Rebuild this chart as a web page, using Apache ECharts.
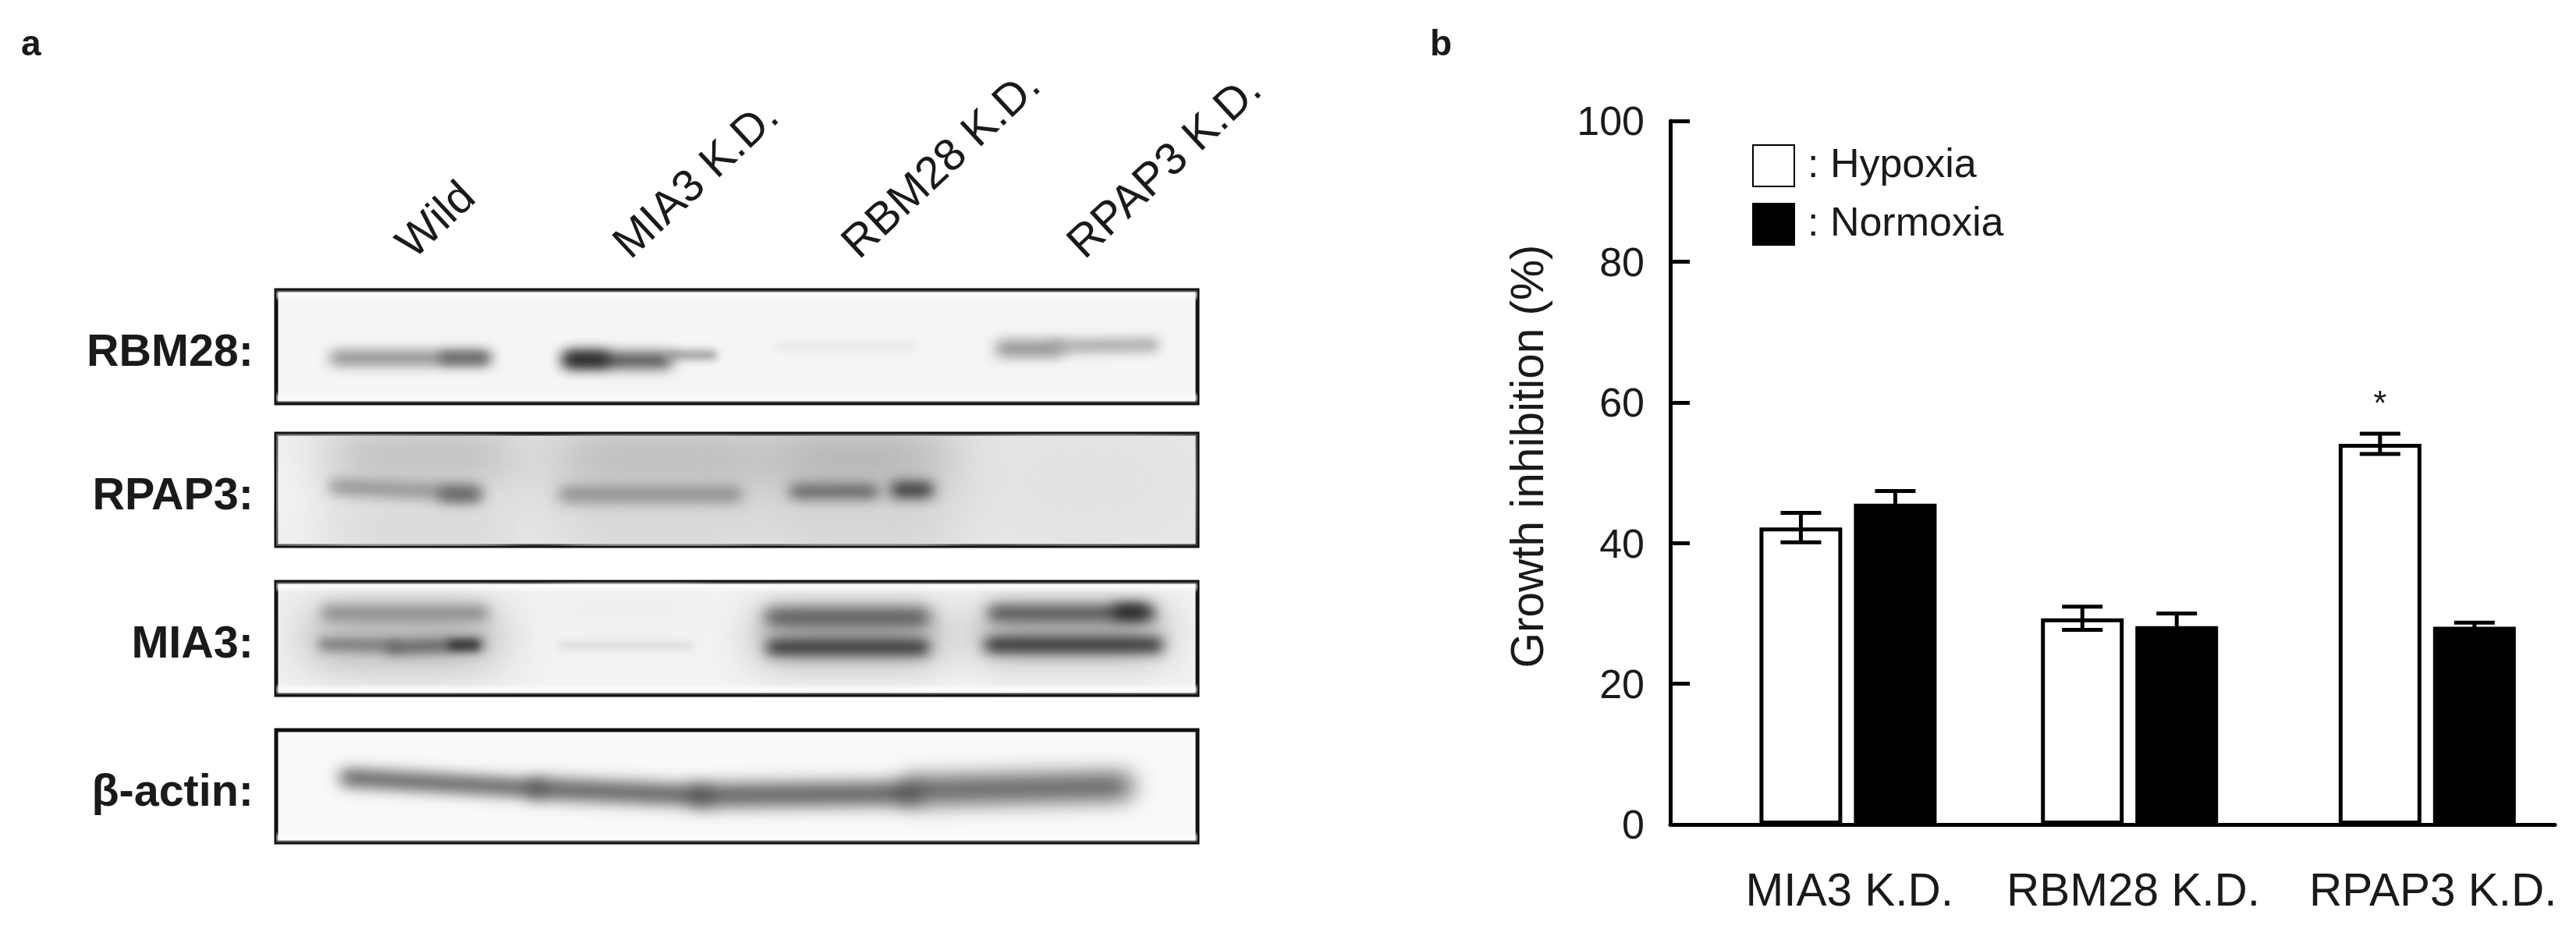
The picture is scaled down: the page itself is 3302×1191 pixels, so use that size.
<!DOCTYPE html>
<html>
<head>
<meta charset="utf-8">
<script src="https://cdn.jsdelivr.net/npm/echarts@6/dist/echarts.min.js"></script>
<style>html,body{margin:0;padding:0;background:#fff}#c{width:3302px;height:1191px;filter:blur(0.6px)}</style>
</head>
<body>
<div id="c"></div>
<script>
// ---- Panel b data ----
const groups = ['MIA3 K.D.', 'RBM28 K.D.', 'RPAP3 K.D.'];
const hypoxia = [42.2, 29.3, 54.1];
const normoxia = [45.6, 28.2, 28.1];
const hypoxiaErr = [2.1, 1.65, 1.45];
const normoxiaErr = [1.8, 1.8, 0.6];
const significance = ['', '', '*'];

// ---- Panel a data ----
const lanes = ['Wild', 'MIA3 K.D.', 'RBM28 K.D.', 'RPAP3 K.D.'];
const blotNames = ['RBM28:', 'RPAP3:', 'MIA3:', 'β-actin:'];
// band strokes: [x0, y0, x1, y1, thickness, grey level]
const bandsRBM28 = [
  [76,87,270,87,15,115],[215,87,265,87,13,95],
  [376,90,500,90,16,35],[375,88,420,88,15,20],[505,83,560,83,10,140],
  [646,72,815,72,10,230],
  [930,75,1000,75,16,115],[1000,72,1125,70,14,155],
  [0,6,1181,6,6,255],[0,138,1181,138,6,255]
];
const bandsRPAP3 = [
  [0,70,30,70,150,255],
  [90,30,280,30,60,178],[385,35,600,35,70,172],[660,35,840,35,70,160],[940,60,1140,60,120,222],
  [90,125,280,125,60,212],[385,125,600,125,60,212],[660,125,840,125,60,208],
  [75,68,255,76,15,130],[215,78,255,78,15,85],
  [370,78,590,78,16,125],
  [665,74,765,74,15,75],[795,72,835,72,16,15]
];
const bandsMIA3 = [
  [65,70,260,70,58,160],[65,40,265,40,15,120],[60,80,150,82,13,110],[150,84,260,80,14,80],[225,81,255,81,10,40],
  [370,35,530,35,35,238],[365,82,530,82,9,218],
  [640,70,830,70,50,140],[635,45,830,45,18,60],[635,84,830,84,15,15],
  [920,65,1115,65,50,145],[920,40,1120,40,16,55],[1080,38,1110,38,15,20],[915,81,1130,81,15,10],
  [0,6,1181,6,6,255],[0,138,1181,138,6,255]
];
const bandsActin = [
  [90,61,335,75,18,60],[335,75,545,84,20,50],[545,84,815,81,22,45],[815,78,1085,72,27,48],
  [0,138,1181,138,6,255]
];

// ---- layout ----
const FONT = '"Liberation Sans", Arial, sans-serif';
const INK = '#1a1a1a';
const groupPos = [0, 0.972, 2];
const labelPos = [0.005, 0.985, 2.02];
const lanePos = [165, 443, 736, 1025];
const barOffset = 0.163;
const blots = [
  {bands: bandsRBM28, top: 372, h: 145, bg: '#f5f5f5'},
  {bands: bandsRPAP3, top: 556, h: 144, bg: '#e9e9e9'},
  {bands: bandsMIA3,  top: 746, h: 145, bg: '#f2f2f2'},
  {bands: bandsActin, top: 936, h: 144, bg: '#f9f9f9'}
];
const blotW = 1181;
const OFF = 5000;

function renderBand(params, api) {
  const a = api.coord([api.value(0), api.value(1)]);
  const b = api.coord([api.value(2), api.value(3)]);
  const t = api.value(4), g = api.value(5);
  return {
    type: 'line',
    shape: {x1: a[0] - OFF, y1: a[1], x2: b[0] - OFF, y2: b[1]},
    style: {
      stroke: '#000', lineWidth: t * 1.0, lineCap: 'round',
      shadowColor: 'rgb(' + g + ',' + g + ',' + g + ')',
      shadowBlur: t * 1.1, shadowOffsetX: OFF
    },
    silent: true
  };
}

function renderErr(params, api) {
  const x = api.value(0), lo = api.value(1), hi = api.value(2);
  const pLo = api.coord([x, lo]), pHi = api.coord([x, hi]);
  const cap = 26;
  const st = {stroke: '#000', lineWidth: 5, fill: null};
  const children = [
    {type: 'line', shape: {x1: pLo[0], y1: pLo[1], x2: pHi[0], y2: pHi[1]}, style: st},
    {type: 'line', shape: {x1: pLo[0] - cap, y1: pLo[1], x2: pLo[0] + cap, y2: pLo[1]}, style: st},
    {type: 'line', shape: {x1: pHi[0] - cap, y1: pHi[1], x2: pHi[0] + cap, y2: pHi[1]}, style: st}
  ];
  const mark = significance[params.dataIndex];
  if (params.seriesName === 'Hypoxia error' && mark) {
    children.push({type: 'text', style: {
      text: mark, x: pHi[0], y: pHi[1] - 36, align: 'center', verticalAlign: 'middle',
      font: '44px ' + FONT, fill: INK
    }});
  }
  return {type: 'group', children};
}

const grid = [], xAxis = [], yAxis = [], series = [];

blots.forEach((b, i) => {
  grid.push({left: 354, top: b.top, width: blotW, height: b.h, show: true,
    backgroundColor: b.bg, borderColor: '#111', borderWidth: 5});
  xAxis.push({type: 'value', gridIndex: i, min: 0, max: blotW, show: false});
  yAxis.push({type: 'value', gridIndex: i, min: 0, max: b.h, inverse: true, show: false});
  yAxis.push({type: 'category', gridIndex: i, data: [blotNames[i]], position: 'left',
    axisLine: {show: false}, axisTick: {show: false},
    axisLabel: {margin: 29, fontFamily: FONT, fontWeight: 'bold', fontSize: 57.5, color: INK,
      formatter: v => '{s| }\n{t|' + v + '}',
      rich: {s: {fontSize: 1, lineHeight: 18}, t: {fontFamily: FONT, fontWeight: 'bold', fontSize: 57.5, color: INK, lineHeight: 62}}}});
  series.push({type: 'custom', name: blotNames[i], xAxisIndex: i, yAxisIndex: i * 2,
    clip: true, renderItem: renderBand, data: b.bands, silent: true,
    encode: {x: [0, 2], y: [1, 3]}});
});

// lane labels along the top of the first blot
xAxis.push({type: 'value', gridIndex: 0, position: 'top', min: 0, max: blotW,
  axisLine: {show: false}, axisTick: {show: false}, splitLine: {show: false},
  axisLabel: {customValues: lanePos, rotate: -43, margin: 50, fontFamily: FONT, fontSize: 58, color: INK,
    formatter: v => lanes[lanePos.indexOf(v)] || ''}});

const bIdx = grid.length;
grid.push({left: 2141, top: 155, width: 1134, height: 902});
const bX = xAxis.length;
xAxis.push({type: 'value', gridIndex: bIdx, min: -0.614, max: 2.441,
  axisLine: {show: true, onZero: false, lineStyle: {color: '#000', width: 5}},
  axisTick: {show: false}, splitLine: {show: false},
  axisLabel: {customValues: labelPos, margin: 58, fontFamily: FONT, fontSize: 58.5, color: INK,
    formatter: v => groups[labelPos.indexOf(v)] || ''}});
const bY = yAxis.length;
yAxis.push({type: 'value', gridIndex: bIdx, min: 0, max: 100, interval: 20,
  name: 'Growth inhibition (%)', nameLocation: 'middle', nameGap: 150,
  nameTextStyle: {fontFamily: FONT, fontSize: 58.5, color: INK, padding: [0, 0, 0, 42]},
  axisLine: {show: true, onZero: false, lineStyle: {color: '#000', width: 5}},
  axisTick: {show: true, inside: true, length: 25, lineStyle: {color: '#000', width: 5}},
  splitLine: {show: false},
  axisLabel: {margin: 33, fontFamily: FONT, fontSize: 52, color: INK,
    formatter: v => '{s| }\n{t|' + v + '}',
    rich: {s: {fontSize: 1, lineHeight: 8}, t: {fontFamily: FONT, fontSize: 52, color: INK, lineHeight: 58}}}});

const hPts = hypoxia.map((v, i) => [groupPos[i] - barOffset, v]);
const nPts = normoxia.map((v, i) => [groupPos[i] + barOffset, v]);
series.push({type: 'bar', name: 'Hypoxia', xAxisIndex: bX, yAxisIndex: bY, data: hPts,
  barWidth: 106, barGap: '-100%', z: 3,
  itemStyle: {color: '#fff', borderColor: '#000', borderWidth: 5}});
series.push({type: 'bar', name: 'Normoxia', xAxisIndex: bX, yAxisIndex: bY, data: nPts,
  barWidth: 106, barGap: '-100%', z: 3,
  itemStyle: {color: '#000', borderColor: '#000', borderWidth: 5}});
series.push({type: 'custom', name: 'Hypoxia error', xAxisIndex: bX, yAxisIndex: bY, z: 4,
  renderItem: renderErr, encode: {x: 0, y: [1, 2]},
  data: hypoxia.map((v, i) => [hPts[i][0], v - hypoxiaErr[i], v + hypoxiaErr[i]])});
series.push({type: 'custom', name: 'Normoxia error', xAxisIndex: bX, yAxisIndex: bY, z: 2,
  renderItem: renderErr, encode: {x: 0, y: [1, 2]},
  data: normoxia.map((v, i) => [nPts[i][0], v - normoxiaErr[i], v + normoxiaErr[i]])});

const option = {
  animation: false,
  backgroundColor: '#fff',
  title: [
    {text: 'a', left: 22, top: 30, textStyle: {fontFamily: FONT, fontWeight: 'bold', fontSize: 46, color: INK}},
    {text: 'b', left: 1828, top: 30, textStyle: {fontFamily: FONT, fontWeight: 'bold', fontSize: 46, color: INK}}
  ],
  legend: {
    data: ['Hypoxia', 'Normoxia'], orient: 'vertical', left: 2241, top: 180,
    itemWidth: 53, itemHeight: 53, itemGap: 20, icon: 'rect',
    formatter: n => ': ' + n,
    textStyle: {fontFamily: FONT, fontSize: 52, color: INK, padding: [0, 0, 0, 12]}
  },
  grid, xAxis, yAxis, series
};
const chart = echarts.init(document.getElementById('c'), null, {renderer: 'canvas'});
chart.setOption(option);
</script>
</body>
</html>
